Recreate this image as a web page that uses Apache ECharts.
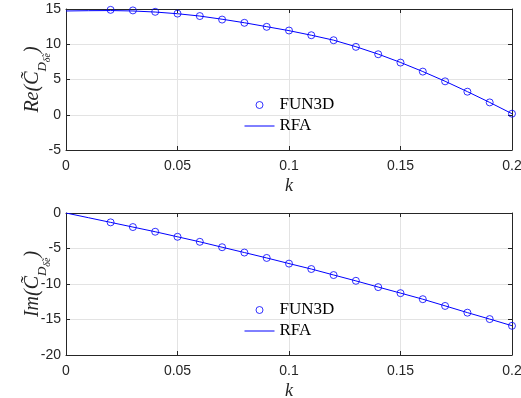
<!DOCTYPE html>
<html>
<head>
<meta charset="utf-8">
<script src="https://cdn.jsdelivr.net/npm/echarts@6/dist/echarts.min.js"></script>
<style>
  html, body { margin: 0; padding: 0; background: #fff; }
  #chart { width: 521px; height: 398px; }
</style>
</head>
<body>
<div id="chart"></div>
<script>
// Reduced frequency samples of the CFD (FUN3D) results
const kFun3d = [0.02, 0.03, 0.04, 0.05, 0.06, 0.07, 0.08, 0.09, 0.10, 0.11,
                0.12, 0.13, 0.14, 0.15, 0.16, 0.17, 0.18, 0.19, 0.20];
const reFun3d = [14.88, 14.80, 14.60, 14.35, 14.00, 13.50, 13.04, 12.47, 11.95, 11.28,
                 10.57, 9.63, 8.58, 7.40, 6.12, 4.74, 3.27, 1.75, 0.15];
const imFun3d = [-1.32, -1.98, -2.64, -3.35, -4.06, -4.82, -5.57, -6.33, -7.13, -7.89,
                 -8.74, -9.55, -10.44, -11.29, -12.14, -13.09, -14.04, -14.94, -15.89];

// Rational function approximation (RFA) curve
const kRfa = [0.00, 0.01, 0.02, 0.03, 0.04, 0.05, 0.06, 0.07, 0.08, 0.09, 0.10,
              0.11, 0.12, 0.13, 0.14, 0.15, 0.16, 0.17, 0.18, 0.19, 0.20];
const reRfa = [14.72, 14.76, 14.78, 14.72, 14.57, 14.33, 14.00, 13.55, 13.05, 12.49, 11.93,
               11.28, 10.58, 9.65, 8.60, 7.42, 6.13, 4.75, 3.28, 1.75, 0.15];
const imRfa = [0.00, -0.66, -1.32, -1.98, -2.64, -3.35, -4.06, -4.82, -5.57, -6.33, -7.12,
               -7.89, -8.73, -9.56, -10.43, -11.28, -12.14, -13.08, -14.03, -14.94, -15.88];

const xTickLabels = { 0: '0', 0.05: '0.05', 0.1: '0.1', 0.15: '0.15', 0.2: '0.2' };

const axisColor = '#262626';
const gridColor = '#e3e3e3';
const blue = '#0000ff';
const sansFont = '"Liberation Sans", Arial, sans-serif';
const serifFont = '"Liberation Serif", "DejaVu Serif", serif';

const pair = (xs, ys) => xs.map((x, i) => [x, ys[i]]);

const yNameRich = {
  m: { fontFamily: serifFont, fontStyle: 'italic', fontSize: 20, color: axisColor, lineHeight: 24, verticalAlign: 'middle' },
  s: { fontFamily: serifFont, fontStyle: 'italic', fontSize: 13, color: axisColor, lineHeight: 12, verticalAlign: 'bottom', padding: [0, 0, -4, 0] },
  ss: { fontFamily: serifFont, fontStyle: 'italic', fontSize: 10, color: axisColor, lineHeight: 9, verticalAlign: 'bottom', padding: [0, 0, -7, 0] }
};

const tickStyle = { show: true, inside: true, length: 4, lineStyle: { color: axisColor } };
const lineStyle = { show: true, onZero: false, lineStyle: { color: axisColor, width: 1 } };

function mainX(gridIndex) {
  return {
    type: 'value', gridIndex, min: 0, max: 0.2, interval: 0.05,
    position: 'bottom',
    name: 'k',
    nameLocation: 'middle', nameGap: 27, nameMoveOverlap: false,
    nameTextStyle: { fontFamily: serifFont, fontStyle: 'italic', fontSize: 18, color: axisColor },
    axisLine: lineStyle,
    axisTick: tickStyle,
    axisLabel: {
      color: axisColor, fontFamily: sansFont, fontSize: 14, margin: 9,
      formatter: v => xTickLabels[Math.round(v * 100) / 100] ?? String(v)
    },
    splitLine: { show: true, lineStyle: { color: gridColor, width: 1 } }
  };
}
function boxX(gridIndex) {
  return {
    type: 'value', gridIndex, min: 0, max: 0.2, interval: 0.05, position: 'top',
    axisLine: lineStyle, axisTick: tickStyle,
    axisLabel: { show: false }, splitLine: { show: false }
  };
}
function mainY(gridIndex, min, max, name) {
  return {
    type: 'value', gridIndex, min, max, interval: 5, position: 'left',
    name, nameLocation: 'middle', nameGap: 21, nameRotate: 90, nameMoveOverlap: false,
    nameTextStyle: { rich: yNameRich },
    axisLine: lineStyle,
    axisTick: tickStyle,
    axisLabel: { color: axisColor, fontFamily: sansFont, fontSize: 14, margin: 5 },
    splitLine: { show: true, lineStyle: { color: gridColor, width: 1 } }
  };
}
function boxY(gridIndex, min, max) {
  return {
    type: 'value', gridIndex, min, max, interval: 5, position: 'right',
    axisLine: lineStyle, axisTick: tickStyle,
    axisLabel: { show: false }, splitLine: { show: false }
  };
}

function fun3dSeries(idx, ys) {
  return {
    name: 'FUN3D', type: 'scatter', xAxisIndex: idx, yAxisIndex: idx,
    data: pair(kFun3d, ys), symbol: 'circle', symbolSize: 7,
    itemStyle: { color: 'rgba(0,0,0,0)', borderColor: blue, borderWidth: 1 },
    z: 3
  };
}
function rfaSeries(idx, ys) {
  return {
    name: 'RFA', type: 'line', xAxisIndex: idx, yAxisIndex: idx,
    data: pair(kRfa, ys), symbol: 'none', showSymbol: false, smooth: false,
    lineStyle: { color: blue, width: 1 }, itemStyle: { color: blue },
    z: 2
  };
}
function legendAt(top) {
  return {
    orient: 'vertical', left: 244, top, padding: 0, selectedMode: false,
    itemWidth: 30, itemHeight: 7, itemGap: 4,
    textStyle: { fontFamily: serifFont, fontSize: 17, color: '#000', lineHeight: 16 },
    lineStyle: { width: 1 },
    data: [
      { name: 'FUN3D', itemStyle: { borderWidth: 1 } },
      { name: 'RFA', itemStyle: { opacity: 0 } }
    ]
  };
}

const chart = echarts.init(document.getElementById('chart'), null, { renderer: 'canvas' });
chart.setOption({
  animation: false,
  backgroundColor: '#fff',
  grid: [
    { left: 66, top: 9, width: 446, height: 141, outerBoundsMode: 'none', containLabel: false },
    { left: 66, top: 213, width: 446, height: 142, outerBoundsMode: 'none', containLabel: false }
  ],
  xAxis: [mainX(0), mainX(1), boxX(0), boxX(1)],
  yAxis: [
    mainY(0, -5, 15, '{m|Re(C\u0303}{s|D}{ss|\u03B4\u0303e}{m|)}'),
    mainY(1, -20, 0, '{m|Im(C\u0303}{s|D}{ss|\u03B4\u0303e}{m|)}'),
    boxY(0, -5, 15), boxY(1, -20, 0)
  ],
  legend: [legendAt(96.5), legendAt(301.5)],
  series: [
    fun3dSeries(0, reFun3d), rfaSeries(0, reRfa),
    fun3dSeries(1, imFun3d), rfaSeries(1, imRfa)
  ]
});
</script>
</body>
</html>
